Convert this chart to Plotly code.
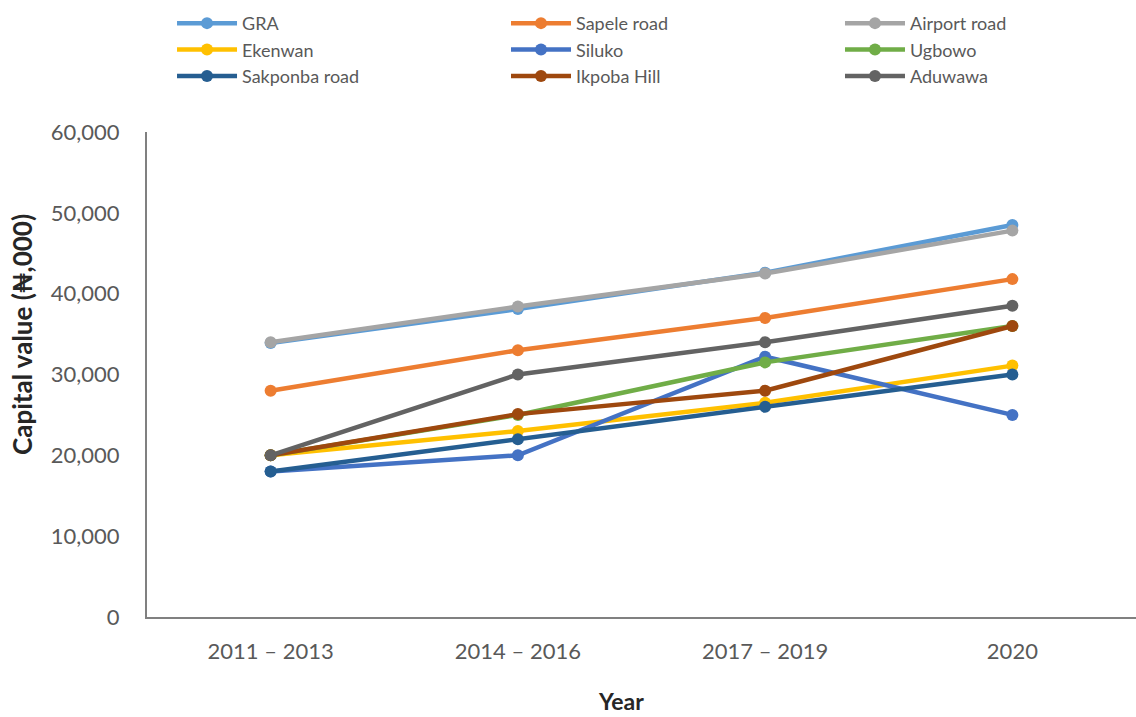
import plotly.graph_objects as go

periods = ["2011 – 2013", "2014 – 2016", "2017 – 2019", "2020"]
series_names = ["GRA", "Sapele road", "Airport road",
                "Ekenwan", "Siluko", "Ugbowo",
                "Sakponba road", "Ikpoba Hill", "Aduwawa"]
gra = [33900, 38100, 42600, 48500]
sapele = [28000, 33000, 37000, 41800]
airport = [34000, 38400, 42500, 47800]
ekenwan = [20000, 23000, 26500, 31100]
siluko = [18000, 20000, 32200, 25000]
ugbowo = [20000, 25000, 31500, 36000]
sakponba = [18000, 22000, 26000, 30000]
ikpoba = [20000, 25100, 28000, 36000]
aduwawa = [20000, 30000, 34000, 38500]
series_values = [gra, sapele, airport, ekenwan, siluko, ugbowo, sakponba, ikpoba, aduwawa]
colors = ["#5B9BD5", "#ED7D31", "#A5A5A5", "#FFC000", "#4472C4", "#70AD47",
          "#255E91", "#9E480E", "#636363"]
y_ticks = [0, 10000, 20000, 30000, 40000, 50000, 60000]

FONT = "Lato, 'Liberation Sans', sans-serif"
legend_ids = ["legend", "legend2", "legend3"]

fig = go.Figure()
for i, (name, vals, col) in enumerate(zip(series_names, series_values, colors)):
    fig.add_trace(go.Scatter(
        x=periods, y=vals, name=name, mode="lines+markers",
        line=dict(color=col, width=4.5),
        marker=dict(color=col, size=12),
        legend=legend_ids[i % 3],
    ))

leg_common = dict(
    orientation="v", xanchor="left", y=1.262, yanchor="top",
    itemwidth=60,
    font=dict(family=FONT, size=18, color="#595959"),
    bgcolor="rgba(0,0,0,0)", tracegroupgap=0,
)

fig.update_layout(
    width=1136, height=717,
    margin=dict(l=147, r=0, t=132, b=100),
    paper_bgcolor="white", plot_bgcolor="white",
    font=dict(family=FONT, color="#595959", size=21),
    showlegend=True,
    legend=dict(x=0.0253, **leg_common),
    legend2=dict(x=0.363, **leg_common),
    legend3=dict(x=0.7007, **leg_common),
    xaxis=dict(
        type="category", range=[-0.5, 3.5],
        showline=True, linecolor="#808080", linewidth=2,
        showgrid=False, ticks="", ticklabelstandoff=14,
        tickfont=dict(family=FONT, size=22, color="#595959"),
    ),
    yaxis=dict(
        range=[0, 60000], tickvals=y_ticks, tickformat=",",
        showline=True, linecolor="#808080", linewidth=2,
        showgrid=False, zeroline=False, ticks="", ticklabelstandoff=21,
        tickfont=dict(family=FONT, size=22, color="#595959"),
    ),
    annotations=[
        dict(text="<b>Capital value (₦,000)</b>", textangle=-90,
             xref="paper", yref="paper", x=(22 - 147) / 989, y=(617 - 335) / 485,
             xanchor="center", yanchor="middle", showarrow=False,
             font=dict(family=FONT, size=26, color="#262626")),
        dict(text="<b>Year</b>",
             xref="paper", yref="paper", x=(621 - 147) / 989, y=(617 - 701) / 485,
             xanchor="center", yanchor="middle", showarrow=False,
             font=dict(family=FONT, size=23, color="#262626")),
    ],
)

fig.write_html("out.html")
